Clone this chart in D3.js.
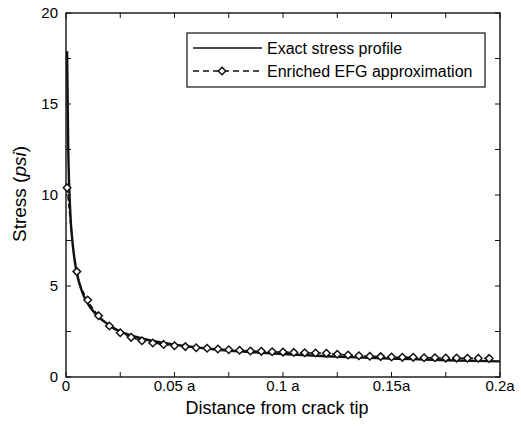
<!DOCTYPE html>
<html>
<head>
<meta charset="utf-8">
<script src="https://cdn.jsdelivr.net/npm/d3@7"></script>
<style>
  body { margin: 0; background: #fff; }
  text { font-family: "Liberation Sans", Arial, sans-serif; fill: #000; }
</style>
</head>
<body>
<svg id="chart" width="521" height="430"></svg>
<script>
// exact stress profile
const exactX = [0.0005, 0.001, 0.002, 0.003, 0.004, 0.005, 0.0075, 0.01, 0.015, 0.02, 0.025, 0.03, 0.04, 0.05, 0.06, 0.07, 0.08, 0.09, 0.1, 0.12, 0.14, 0.16, 0.18, 0.2];
const exactY = [17.9, 12.8, 9.0, 7.4, 6.4, 5.7, 4.65, 4.05, 3.3, 2.85, 2.5, 2.28, 1.98, 1.78, 1.63, 1.5, 1.41, 1.33, 1.26, 1.14, 1.05, 0.98, 0.91, 0.86];

// enriched EFG approximation (markers)
const efgX = [0.0005, 0.005, 0.01, 0.015, 0.02, 0.025, 0.03, 0.035, 0.04, 0.045, 0.05, 0.055, 0.06, 0.065, 0.07, 0.075, 0.08, 0.085, 0.09, 0.095, 0.1, 0.105, 0.11, 0.115, 0.12, 0.125, 0.13, 0.135, 0.14, 0.145, 0.15, 0.155, 0.16, 0.165, 0.17, 0.175, 0.18, 0.185, 0.19, 0.195];
const efgY = [10.4, 5.79, 4.23, 3.37, 2.8, 2.43, 2.18, 1.99, 1.87, 1.79, 1.72, 1.67, 1.61, 1.58, 1.54, 1.5, 1.47, 1.43, 1.41, 1.39, 1.37, 1.35, 1.33, 1.32, 1.3, 1.25, 1.21, 1.17, 1.14, 1.12, 1.1, 1.08, 1.08, 1.06, 1.06, 1.04, 1.04, 1.03, 1.03, 1.02];

const xTicks = [0, 0.05, 0.1, 0.15, 0.2];
const xTickLabels = ["0", "0.05 a", "0.1 a", "0.15a", "0.2a"];
const yTicks = [0, 5, 10, 15, 20];

const svg = d3.select("#chart");
const m = { left: 66, right: 500, top: 13, bottom: 377 };

const x = d3.scaleLinear().domain([0, 0.2]).range([m.left, m.right]);
const y = d3.scaleLinear().domain([0, 20]).range([m.bottom, m.top]);

const minorX = d3.range(0, 0.2001, 0.025);
const minorY = d3.range(0, 20.01, 2.5);

// frame
svg.append("rect")
  .attr("x", m.left).attr("y", m.top)
  .attr("width", m.right - m.left).attr("height", m.bottom - m.top)
  .attr("fill", "none").attr("stroke", "#111").attr("stroke-width", 1.4);

// inward ticks on all four sides
const tk = 5;
const ticks = svg.append("g").attr("stroke", "#111").attr("stroke-width", 1);
minorX.forEach(v => {
  ticks.append("line").attr("x1", x(v)).attr("x2", x(v)).attr("y1", m.bottom).attr("y2", m.bottom - tk);
  ticks.append("line").attr("x1", x(v)).attr("x2", x(v)).attr("y1", m.top).attr("y2", m.top + tk);
});
minorY.forEach(v => {
  ticks.append("line").attr("y1", y(v)).attr("y2", y(v)).attr("x1", m.left).attr("x2", m.left + tk);
  ticks.append("line").attr("y1", y(v)).attr("y2", y(v)).attr("x1", m.right).attr("x2", m.right - tk);
});

// tick labels
svg.append("g").selectAll("text").data(xTicks).join("text")
  .attr("x", d => x(d)).attr("y", m.bottom + 14)
  .attr("text-anchor", "middle").attr("font-size", 15)
  .text((d, i) => xTickLabels[i]);

svg.append("g").selectAll("text").data(yTicks).join("text")
  .attr("x", m.left - 8).attr("y", d => y(d) + 5)
  .attr("text-anchor", "end").attr("font-size", 15)
  .text(d => d);

// axis titles
svg.append("text")
  .attr("x", 277).attr("y", 414)
  .attr("text-anchor", "middle").attr("font-size", 18)
  .text("Distance from crack tip");

const yl = svg.append("text")
  .attr("transform", "translate(26,194) rotate(-90)")
  .attr("text-anchor", "middle").attr("font-size", 19);
yl.append("tspan").text("Stress (");
yl.append("tspan").attr("font-style", "italic").text("psi");
yl.append("tspan").text(")");

// curves
const exact = exactX.map((v, i) => [v, exactY[i]]);
const efg = efgX.map((v, i) => [v, efgY[i]]);
const line = d3.line().x(d => x(d[0])).y(d => y(d[1])).curve(d3.curveMonotoneX);

svg.append("path").datum(efg)
  .attr("d", line).attr("fill", "none")
  .attr("stroke", "#111").attr("stroke-width", 1.5)
  .attr("stroke-dasharray", "5,3");

svg.append("path").datum(exact)
  .attr("d", line).attr("fill", "none")
  .attr("stroke", "#111").attr("stroke-width", 2.4);

const diamond = d3.symbol().type(d3.symbolDiamond2).size(36);
svg.append("g").selectAll("path").data(efg).join("path")
  .attr("transform", d => `translate(${x(d[0])},${y(d[1])})`)
  .attr("d", diamond)
  .attr("fill", "#fff").attr("stroke", "#111").attr("stroke-width", 1.5);

// legend
const lg = svg.append("g");
lg.append("rect")
  .attr("x", 187).attr("y", 33).attr("width", 298).attr("height", 54)
  .attr("fill", "#fff").attr("stroke", "#111").attr("stroke-width", 1.2);
lg.append("line").attr("x1", 193).attr("x2", 262).attr("y1", 48).attr("y2", 48)
  .attr("stroke", "#111").attr("stroke-width", 1.6);
lg.append("line").attr("x1", 193).attr("x2", 262).attr("y1", 71).attr("y2", 71)
  .attr("stroke", "#111").attr("stroke-width", 1.6).attr("stroke-dasharray", "6,4");
lg.append("path").attr("transform", "translate(222,71)")
  .attr("d", diamond).attr("fill", "#fff").attr("stroke", "#111").attr("stroke-width", 1.5);
lg.append("text").attr("x", 267).attr("y", 54).attr("font-size", 16).text("Exact stress profile");
lg.append("text").attr("x", 267).attr("y", 77).attr("font-size", 16).text("Enriched EFG approximation");
</script>
</body>
</html>
